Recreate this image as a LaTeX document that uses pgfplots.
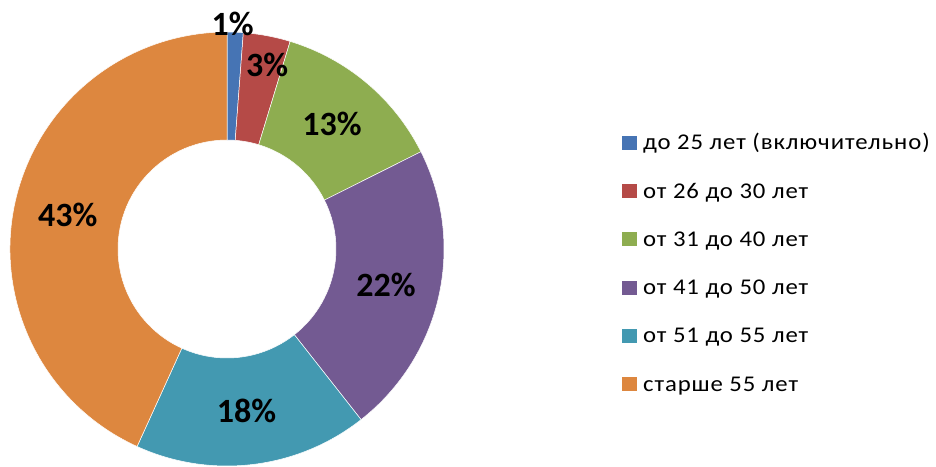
\documentclass[border=0pt]{standalone}
\usepackage{pgfplots}
\pgfplotsset{compat=1.18}
\usepackage{fontspec}
\setmainfont{Carlito}
\definecolor{c1}{HTML}{4674B4}
\definecolor{c2}{HTML}{B54A47}
\definecolor{c3}{HTML}{8EAD50}
\definecolor{c4}{HTML}{735A92}
\definecolor{c5}{HTML}{4399B1}
\definecolor{c6}{HTML}{DD873F}
% value / colour / label / label radius / label angle shift / legend text
\def\donutdata{1.2/c1/1\%/225/0.7/до 25 лет (включительно),
3.5/c2/3\%/188/-1.7/от 26 до 30 лет,
12.9/c3/13\%/163/0/от 31 до 40 лет,
21.8/c4/22\%/163/0/от 41 до 50 лет,
17.4/c5/18\%/163/0/от 51 до 55 лет,
43.2/c6/43\%/163/0/старше 55 лет}
\begin{document}
\begin{tikzpicture}
\begin{axis}[width=936pt, height=466pt, scale only axis,
  xmin=0, xmax=936, ymin=0, ymax=466, hide axis, clip=false]
\pgfplotsextra{
  \gdef\cur{90}
  \foreach \v/\col/\lab/\lr/\ld/\leg [count=\i] in \donutdata {
    \pgfmathsetmacro\a{\cur}
    \pgfmathsetmacro\b{\a-3.6*\v}
    \fill[\col, draw=white, line width=0.5pt]
      (axis cs:{227+217*cos(\a)},{217+217*sin(\a)})
      arc[start angle=\a, end angle=\b, radius=217pt]
      -- (axis cs:{227+109*cos(\b)},{217+109*sin(\b)})
      arc[start angle=\b, end angle=\a, radius=109pt] -- cycle;
    \pgfmathsetmacro\ly{316-48.2*(\i-1)}
    \fill[\col] (axis cs:622,\ly) rectangle (axis cs:637,{\ly+14});
    \node[anchor=base west, inner sep=0pt,
      font=\fontsize{22.5}{22.5}\selectfont\addfontfeature{FakeStretch=1.1,LetterSpace=4}]
      at (axis cs:643,\ly) {\leg};
    \xdef\cur{\b}
  }
  \gdef\cur{90}
  \foreach \v/\col/\lab/\lr/\ld/\leg in \donutdata {
    \pgfmathsetmacro\a{\cur}
    \pgfmathsetmacro\b{\a-3.6*\v}
    \pgfmathsetmacro\m{(\a+\b)/2+\ld}
    \node[inner sep=0pt, font=\fontsize{34}{34}\selectfont\bfseries]
      at (axis cs:{227+\lr*cos(\m)},{217+\lr*sin(\m)}) {\lab};
    \xdef\cur{\b}
  }
}
\end{axis}
\pgfresetboundingbox
\useasboundingbox (current axis.south west) rectangle (current axis.north east);
\end{tikzpicture}
\end{document}
